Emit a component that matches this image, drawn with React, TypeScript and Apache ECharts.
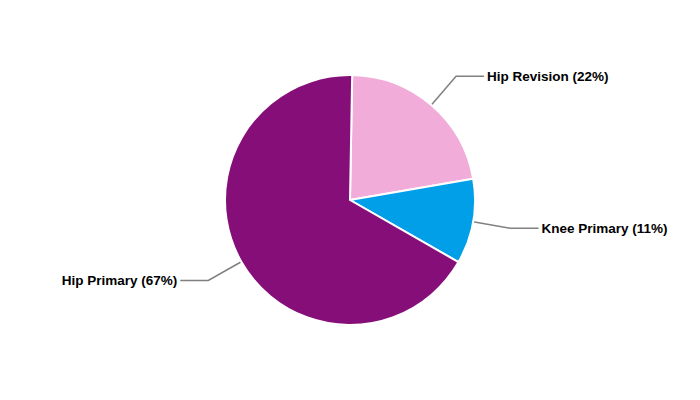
import React, { useEffect, useRef } from "react";
import * as echarts from "echarts";

const categories = ["Hip Revision", "Knee Primary", "Hip Primary"];
const values = [22, 11, 67];
const colors = ["#F2ACD9", "#009FE8", "#850E78"];

export default function App() {
  const ref = useRef<HTMLDivElement>(null);
  useEffect(() => {
    document.body.style.margin = "0";
    const chart = echarts.init(ref.current!, undefined, { renderer: "svg" });
    chart.setOption({
      animation: false,
      backgroundColor: "#ffffff",
      series: [
        {
          type: "pie",
          center: [350, 200],
          radius: 125,
          startAngle: 89,
          clockwise: true,
          avoidLabelOverlap: false,
          data: categories.map((name, i) => ({
            name,
            value: values[i],
            itemStyle: { color: colors[i] },
          })),
          itemStyle: { borderColor: "#ffffff", borderWidth: 2 },
          label: {
            show: true,
            position: "outside",
            formatter: "{b} ({c}%)",
            color: "#000000",
            fontFamily: "Liberation Sans, Arial, sans-serif",
            fontWeight: "bold",
            fontSize: 13.5,
            distanceToLabelLine: 3,
          },
          labelLine: {
            show: true,
            length: 38,
            length2: 28,
            lineStyle: { color: "#808080", width: 1.5 },
          },
          emphasis: { disabled: true },
        },
      ],
    });
    return () => chart.dispose();
  }, []);
  return <div ref={ref} style={{ width: 700, height: 400 }} />;
}
